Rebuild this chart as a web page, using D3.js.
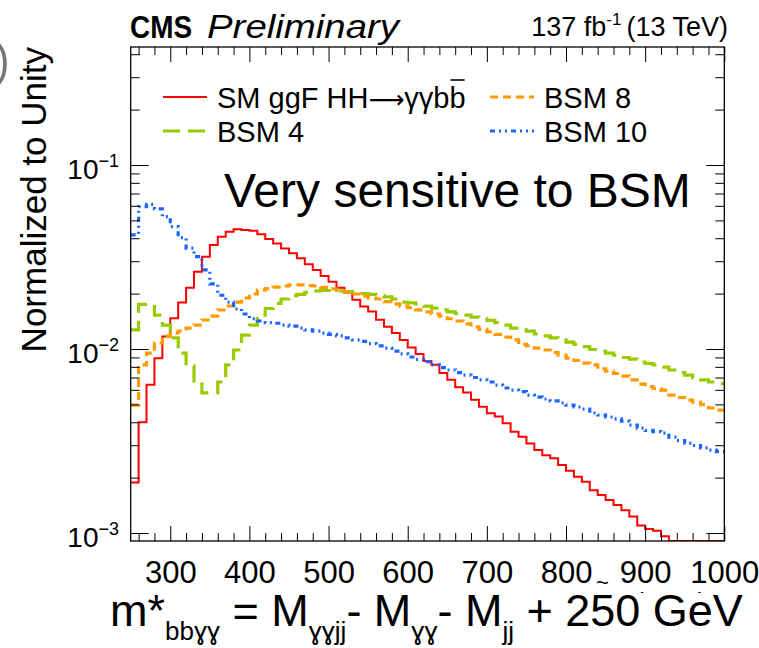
<!DOCTYPE html>
<html>
<head>
<meta charset="utf-8">
<script src="https://cdn.jsdelivr.net/npm/d3@7"></script>
<style>
  body { margin: 0; background: #fff; }
  svg { display: block; font-family: "Liberation Sans", Arial, Helvetica, sans-serif; }
</style>
</head>
<body>
<svg id="chart" width="759" height="648"></svg>
<script>
// bin edges in GeV (10 GeV bins)
const binEdges = [250,260,270,280,290,300,310,320,330,340,350,360,370,380,390,400,410,420,430,440,
  450,460,470,480,490,500,510,520,530,540,550,560,570,580,590,600,610,620,630,640,
  650,660,670,680,690,700,710,720,730,740,750,760,770,780,790,800,810,820,830,840,
  850,860,870,880,890,900,910,920,930,940,950,960,970,980,990,1000];

// normalized contents, one per bin
const smHH = [0.00188,0.0040,0.0064,0.0089,0.0117,0.0147,0.0179,0.0215,0.0263,0.0317,
  0.0367,0.0407,0.0434,0.0447,0.0443,0.0439,0.0420,0.0396,0.0375,0.0352,
  0.0331,0.0311,0.0289,0.0269,0.0249,0.0232,0.0215,0.0203,0.0185,0.0170,
  0.0160,0.0144,0.0132,0.0122,0.0112,0.0102,0.0094,0.0086,0.0082,0.0074,
  0.0068,0.0062,0.0058,0.0053,0.00486,0.00447,0.0043,0.00395,0.00355,0.00334,
  0.00307,0.00283,0.00265,0.00255,0.00234,0.00218,0.00202,0.0019,0.00171,0.00161,
  0.00151,0.00142,0.00133,0.00123,0.0011,0.00105,0.00103,0.00096,0.00085,0.0008,
  0.00076,0.00072,0.00068,0.00065,0.00062];

const bsm4 = [0.0127,0.0175,0.0175,0.0153,0.0135,0.0115,0.00951,0.00809,0.0067,0.00577,
  0.00577,0.00662,0.00819,0.00988,0.0119,0.0135,0.0153,0.0166,0.0177,0.0187,
  0.0195,0.0198,0.0203,0.0207,0.0208,0.0208,0.0207,0.0205,0.0204,0.0200,
  0.0198,0.0195,0.0192,0.0187,0.0180,0.0178,0.0176,0.0171,0.0167,0.0163,
  0.0159,0.0156,0.0153,0.0149,0.0146,0.0143,0.0139,0.0135,0.0130,0.0127,
  0.0125,0.0121,0.0118,0.0115,0.0112,0.0109,0.0106,0.0103,0.00994,0.00975,
  0.00951,0.00927,0.00899,0.00882,0.0085,0.00834,0.00819,0.00798,0.00769,0.00745,
  0.00722,0.00696,0.00679,0.00662,0.00649];

const bsm8 = [0.00496,0.00819,0.00951,0.01078,0.01177,0.01222,0.01253,0.0130,0.01349,0.01438,
  0.01511,0.01629,0.01713,0.0180,0.01893,0.0199,0.0209,0.0213,0.0217,0.0220,
  0.0223,0.0223,0.0221,0.0220,0.0216,0.0212,0.0208,0.0204,0.0199,0.0194,
  0.0189,0.0187,0.0181,0.0176,0.0171,0.0168,0.0163,0.0159,0.0155,0.0151,
  0.0146,0.0142,0.0137,0.0132,0.0128,0.0124,0.0120,0.0116,0.0112,0.0106,
  0.0104,0.0101,0.00988,0.00957,0.00927,0.00893,0.00866,0.00839,0.00819,0.00779,
  0.00759,0.00736,0.00713,0.00679,0.00645,0.00625,0.0061,0.00598,0.00562,0.00545,
  0.00528,0.00515,0.00499,0.00478,0.00466];

const bsm10 = [0.0417,0.0593,0.0611,0.0577,0.0524,0.0462,0.0403,0.0353,0.0318,0.0269,
  0.0226,0.0196,0.0180,0.0165,0.0155,0.0146,0.0142,0.0139,0.0138,0.0135,
  0.0133,0.0130,0.0127,0.0125,0.0122,0.0120,0.0118,0.0115,0.0112,0.0110,
  0.0107,0.0104,0.0101,0.00975,0.0094,0.00905,0.00877,0.00855,0.00819,0.00793,
  0.00769,0.00745,0.00722,0.0070,0.00679,0.00662,0.00637,0.00614,0.00598,0.00586,
  0.00562,0.00548,0.00535,0.00522,0.00509,0.00496,0.00484,0.00472,0.00449,0.00438,
  0.00427,0.00417,0.00406,0.00386,0.00372,0.00361,0.00356,0.00349,0.00332,0.00318,
  0.00308,0.00299,0.0029,0.00282,0.00277];

const xMajorTicks = [300,400,500,600,700,800,900,1000];
const xMinorTicks = [260,280,320,340,360,380,420,440,460,480,520,540,560,580,620,640,660,680,
  720,740,760,780,820,840,860,880,920,940,960,980];
const yMajorTicks = [1e-3, 1e-2, 1e-1];
const yMajorExp = ["\u22123", "\u22122", "\u22121"];
const yMinorTicks = [2e-3,3e-3,4e-3,5e-3,6e-3,7e-3,8e-3,9e-3,
  2e-2,3e-2,4e-2,5e-2,6e-2,7e-2,8e-2,9e-2, 2e-1,3e-1,4e-1];
const yRange = [9.05e-4, 0.4378];

const series = [
  { name: ["SM ggF HH", "\u27f6", "\u03b3\u03b3b"], bar: "b", values: smHH, color: "#ff0000", width: 2, dash: null },
  { name: ["BSM 4"], values: bsm4, color: "#99cc00", width: 3.2, dash: "17,8" },
  { name: ["BSM 8"], values: bsm8, color: "#ff9a00", width: 3.2, dash: "8,5" },
  { name: ["BSM 10"], values: bsm10, color: "#1a66ff", width: 3.2, dash: "5,4,2,4,2,4" }
];

const L = 130.7, R = 724.3, T = 47, B = 541;
const svg = d3.select("#chart");

const x = d3.scaleLinear().domain([250, 1000]).range([L, R]);
const y = d3.scaleLog().domain(yRange).range([B, T]).clamp(true);

svg.append("defs").append("clipPath").attr("id", "frame")
  .append("rect").attr("x", L).attr("y", T).attr("width", R - L).attr("height", B - T);

// histograms
const step = d3.line()
  .x(d => x(d[0]))
  .y(d => y(d[1]))
  .curve(d3.curveStepAfter);

const plot = svg.append("g").attr("clip-path", "url(#frame)");
series.forEach(s => {
  const pts = binEdges.map((e, i) => [e, s.values[Math.min(i, s.values.length - 1)]]);
  plot.append("path")
    .attr("d", step(pts))
    .attr("fill", "none")
    .attr("stroke", s.color)
    .attr("stroke-width", s.width)
    .attr("stroke-dasharray", s.dash);
});

// axes (ticks inward on all four sides)
function styleAxis(g) {
  g.select(".domain").remove();
  g.selectAll(".tick line").attr("stroke", "#000").attr("stroke-width", 1);
}
svg.append("g").attr("transform", `translate(0,${B})`)
  .call(d3.axisBottom(x).tickValues(xMajorTicks).tickSize(-15).tickPadding(20).tickFormat(d3.format("d")))
  .call(styleAxis)
  .call(g => g.selectAll("text").attr("font-size", 31).attr("fill", "#000")
    .attr("font-family", "Liberation Sans, Arial, sans-serif"));
svg.append("g").attr("transform", `translate(0,${B})`)
  .call(d3.axisBottom(x).tickValues(xMinorTicks).tickSize(-8).tickFormat(""))
  .call(styleAxis);
svg.append("g").attr("transform", `translate(0,${T})`)
  .call(d3.axisTop(x).tickValues(xMajorTicks).tickSize(-15).tickFormat(""))
  .call(styleAxis);
svg.append("g").attr("transform", `translate(0,${T})`)
  .call(d3.axisTop(x).tickValues(xMinorTicks).tickSize(-8).tickFormat(""))
  .call(styleAxis);
svg.append("g").attr("transform", `translate(${L},0)`)
  .call(d3.axisLeft(y).tickValues(yMajorTicks).tickSize(-18).tickFormat(""))
  .call(styleAxis);
svg.append("g").attr("transform", `translate(${L},0)`)
  .call(d3.axisLeft(y).tickValues(yMinorTicks).tickSize(-9).tickFormat(""))
  .call(styleAxis);
svg.append("g").attr("transform", `translate(${R},0)`)
  .call(d3.axisRight(y).tickValues(yMajorTicks).tickSize(-18).tickFormat(""))
  .call(styleAxis);
svg.append("g").attr("transform", `translate(${R},0)`)
  .call(d3.axisRight(y).tickValues(yMinorTicks).tickSize(-9).tickFormat(""))
  .call(styleAxis);

svg.append("rect").attr("x", L).attr("y", T).attr("width", R - L).attr("height", B - T)
  .attr("fill", "none").attr("stroke", "#000").attr("stroke-width", 1.3);

// y tick labels 10^n
yMajorTicks.forEach((v, i) => {
  const t = svg.append("text").attr("x", 119).attr("y", y(v) + 14)
    .attr("text-anchor", "end").attr("font-size", 28);
  t.append("tspan").text("10");
  t.append("tspan").attr("dy", -12).attr("font-size", 18).text(yMajorExp[i]);
});

// y title
svg.append("text")
  .attr("transform", "translate(46,47) rotate(-90)")
  .attr("text-anchor", "end").attr("font-size", 35)
  .text("Normalized to Unity");

// clipped grey glyph at top-left
svg.append("text").attr("x", -44).attr("y", 90).attr("font-size", 72)
  .attr("font-family", "DejaVu Sans").attr("font-weight", 200).attr("fill", "#777").text("O");

// header
svg.append("text").attr("x", 130).attr("y", 38).attr("font-size", 32).attr("font-weight", "bold")
  .attr("textLength", 62).attr("lengthAdjust", "spacingAndGlyphs").text("CMS");
svg.append("text").attr("x", 207).attr("y", 38).attr("font-size", 33).attr("font-style", "italic")
  .attr("textLength", 192).attr("lengthAdjust", "spacingAndGlyphs").text("Preliminary");
const lumi = svg.append("text").attr("x", 728).attr("y", 36).attr("text-anchor", "end").attr("font-size", 27);
lumi.append("tspan").text("137 fb");
lumi.append("tspan").attr("dy", -11).attr("font-size", 17).text("-1");
lumi.append("tspan").attr("dy", 11).attr("dx", 5).text("(13 TeV)");

// legend
const legendPos = [[163, 97], [163, 131], [490, 97], [490, 131]];
series.forEach((s, i) => {
  const [lx, ly] = legendPos[i];
  svg.append("line").attr("x1", lx).attr("x2", lx + 44).attr("y1", ly).attr("y2", ly)
    .attr("stroke", s.color).attr("stroke-width", s.width).attr("stroke-dasharray", s.dash);
  const t = svg.append("text").attr("x", lx + 54).attr("y", ly + 11).attr("font-size", 29);
  s.name.forEach((part, j) => {
    const sp = t.append("tspan").text(part);
    if (j === 1) sp.attr("font-family", "DejaVu Sans").attr("font-size", 25);
  });
  if (s.bar) {
    const w = t.node().getComputedTextLength();
    const tb = svg.append("text").attr("x", lx + 54 + w).attr("y", ly + 11).attr("font-size", 29).text(s.bar);
    const bw = tb.node().getComputedTextLength();
    svg.append("line").attr("x1", lx + 54 + w + 1).attr("x2", lx + 54 + w + bw - 1)
      .attr("y1", ly - 17).attr("y2", ly - 17).attr("stroke", "#000").attr("stroke-width", 1.6);
  }
});

svg.append("text").attr("x", 224).attr("y", 207).attr("font-size", 48).text("Very sensitive to BSM");

// original x title, mostly hidden under the overlay box
svg.append("text").attr("x", 596).attr("y", 590).attr("font-size", 22).text("~");
const xt = svg.append("text").attr("x", 592).attr("y", 612).attr("font-size", 27);
xt.append("tspan").text("M");
xt.append("tspan").attr("dy", 6).attr("font-size", 19).text("X");
xt.append("tspan").attr("dy", -6).text(" (GeV)");
svg.append("rect").attr("x", 90).attr("y", 593).attr("width", 669).attr("height", 55).attr("fill", "#fff");

// overlay formula
const f = svg.append("text").attr("x", 110).attr("y", 626).attr("font-size", 45);
const parts = [["m*", 0], ["bb\u0263\u0263", 1], [" = M", 0], ["\u0263\u0263jj", 1], ["- M", 0],
  ["\u0263\u0263", 1], ["- M", 0], ["jj", 1], [" + 250 GeV", 0]];
let low = false;
parts.forEach(([txt, sub]) => {
  const sp = f.append("tspan").text(txt);
  if (sub && !low) { sp.attr("dy", 14).attr("font-size", 26); low = true; }
  else if (sub) { sp.attr("font-size", 26); }
  else if (low) { sp.attr("dy", -14); low = false; }
});
</script>
</body>
</html>
